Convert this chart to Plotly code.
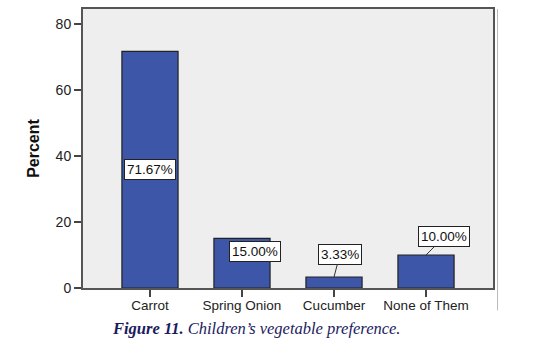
import plotly.graph_objects as go

categories = ["Carrot", "Spring Onion", "Cucumber", "None of Them"]
percent = [71.67, 15.00, 3.33, 10.00]
labels = ["71.67%", "15.00%", "3.33%", "10.00%"]
y_ticks = [0, 20, 40, 60, 80]

BAR = "#3d56a8"
fig = go.Figure()
fig.add_trace(go.Bar(
    x=categories, y=percent, width=0.61,
    marker=dict(color=BAR, line=dict(color="#222222", width=1.2)),
    hoverinfo="skip",
))

ann_font = dict(family="Liberation Sans, Arial", size=13.5, color="#111111")
# label placement (pixel offsets) per category
offsets = [
    dict(mode="mid", ax=0, ay=0),
    dict(mode="top", ax=13, ay=-13),
    dict(mode="arrow", ax=6, ay=-23),
    dict(mode="arrow", ax=18, ay=-18),
]
for c, v, t, o in zip(categories, percent, labels, offsets):
    common = dict(x=c, text=t, font=ann_font, bgcolor="white",
                  bordercolor="#222222", borderwidth=1, borderpad=2)
    if o["mode"] == "mid":
        fig.add_annotation(y=v / 2, showarrow=False, **common)
    elif o["mode"] == "top":
        fig.add_annotation(y=v, showarrow=False, xshift=o["ax"], yshift=o["ay"], **common)
    else:
        fig.add_annotation(y=v, showarrow=True, arrowhead=0, arrowwidth=1,
                           arrowcolor="#333333", ax=o["ax"], ay=o["ay"], **common)

fig.update_layout(
    width=537, height=344,
    margin=dict(l=83, r=44, t=7, b=56),
    paper_bgcolor="white",
    plot_bgcolor="#eeeeee",
    showlegend=False,
    font=dict(family="Liberation Sans, Arial", size=13, color="#222222"),
)
fig.update_xaxes(
    range=[-0.728, 3.728], showgrid=False, ticks="outside", ticklen=7,
    tickwidth=2, tickcolor="#444444", showline=True, linecolor="#555555",
    linewidth=2, mirror=True, tickfont=dict(size=13.5, color="#222222"),
    ticklabelstandoff=-3,
)
fig.update_yaxes(
    range=[0, 84.5], tickvals=y_ticks, showgrid=False, zeroline=False,
    ticks="outside", ticklen=7, tickwidth=2, tickcolor="#444444",
    showline=True, linecolor="#555555", linewidth=2, mirror=True,
    tickfont=dict(size=14, color="#222222"),
    title=dict(text="<b>Percent</b>", font=dict(size=16, color="#111111"), standoff=12),
)
# outer frame line of the original chart
fig.add_shape(type="line", xref="paper", yref="paper", x0=1.011, x1=1.011,
              y0=-0.08, y1=1.0, line=dict(color="#bbbbbb", width=1))
fig.add_annotation(
    xref="paper", yref="paper", x=0.065, y=-0.105, xanchor="left", yanchor="top",
    showarrow=False,
    text="<b><i>Figure 11.</i></b><i> Children’s vegetable preference.</i>",
    font=dict(family="Liberation Serif, Times New Roman", size=16.5, color="#1b1b5e"),
)
fig.write_html("out.html")
